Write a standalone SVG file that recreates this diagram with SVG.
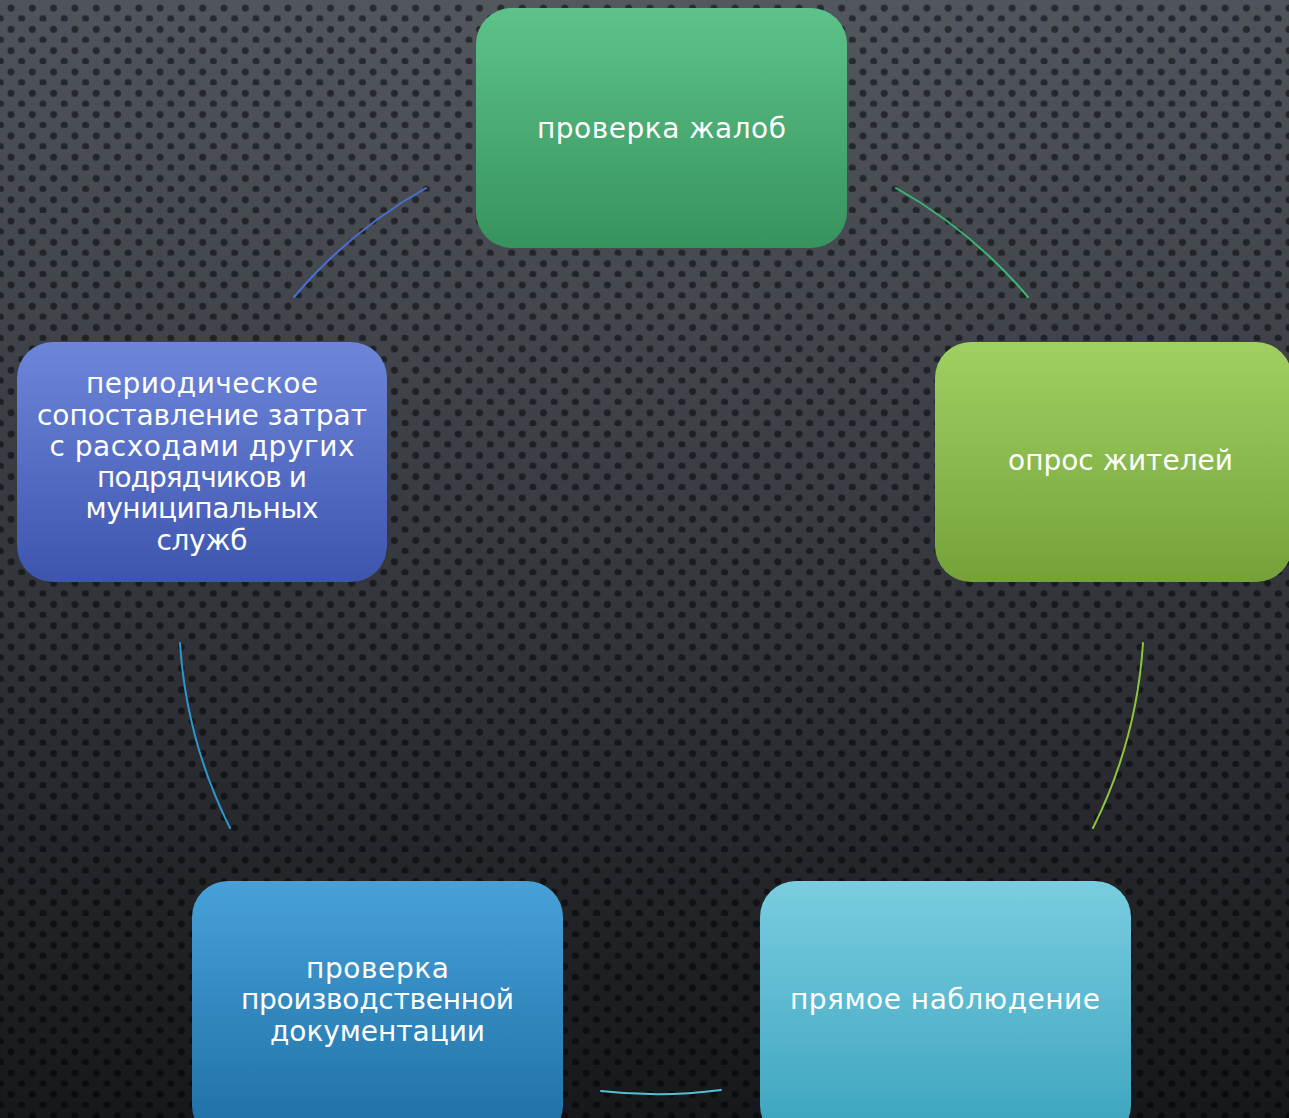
<svg xmlns="http://www.w3.org/2000/svg" width="1289" height="1118" viewBox="0 0 1289 1118">
<defs>
<linearGradient id="bg" x1="0" y1="0" x2="0" y2="1">
<stop offset="0" stop-color="#4b4f57"/>
<stop offset="0.45" stop-color="#34373d"/>
<stop offset="1" stop-color="#17181b"/>
</linearGradient>
<radialGradient id="glow" cx="0.5" cy="0" r="0.9">
<stop offset="0" stop-color="#ffffff" stop-opacity="0.05"/>
<stop offset="1" stop-color="#ffffff" stop-opacity="0"/>
</radialGradient>
<pattern id="dots" x="0" y="0" width="21.3" height="21.3" patternUnits="userSpaceOnUse">
<circle cx="11" cy="8" r="3.5" fill="#000" fill-opacity="0.5"/>
<circle cx="0.35" cy="18.65" r="3.5" fill="#000" fill-opacity="0.5"/>
<circle cx="21.65" cy="18.65" r="3.5" fill="#000" fill-opacity="0.5"/>
</pattern>
<linearGradient id="gGreen" x1="0" y1="0" x2="0" y2="1">
<stop offset="0" stop-color="#5dc38a"/>
<stop offset="1" stop-color="#37935d"/>
</linearGradient>
<linearGradient id="gLime" x1="0" y1="0" x2="0" y2="1">
<stop offset="0" stop-color="#a0d062"/>
<stop offset="1" stop-color="#74a239"/>
</linearGradient>
<linearGradient id="gCyan" x1="0" y1="0" x2="0" y2="1">
<stop offset="0" stop-color="#79cde0"/>
<stop offset="1" stop-color="#3aa3bd"/>
</linearGradient>
<linearGradient id="gBlue" x1="0" y1="0" x2="0" y2="1">
<stop offset="0" stop-color="#47a1d7"/>
<stop offset="1" stop-color="#1d6fa5"/>
</linearGradient>
<linearGradient id="gIndigo" x1="0" y1="0" x2="0" y2="1">
<stop offset="0" stop-color="#6d86da"/>
<stop offset="1" stop-color="#3e55ae"/>
</linearGradient>
</defs>
<style>
.lbl{font-family:"DejaVu Sans","Liberation Sans",sans-serif;font-size:28px;fill:#ffffff;text-anchor:middle}
.arc{fill:none;stroke-width:2;stroke-linecap:round}
</style>
<rect width="1289" height="1118" fill="url(#bg)"/>
<rect width="1289" height="1118" fill="url(#glow)"/>
<rect width="1289" height="1118" fill="url(#dots)"/>

<g id="connectors">
<path class="arc" stroke="#38b874" d="M 896 188 A 483 483 0 0 1 1028 297"/>
<path class="arc" stroke="#8cc63f" d="M 1143 643 A 483 483 0 0 1 1093 828"/>
<path class="arc" stroke="#55bfd5" d="M 721 1090 A 483 483 0 0 1 601 1091"/>
<path class="arc" stroke="#2a98cf" d="M 230 828 A 483 483 0 0 1 180 643"/>
<path class="arc" stroke="#4a6fd6" d="M 294 297 A 483 483 0 0 1 426 188"/>
</g>

<g id="node-complaints">
<rect x="476" y="8" width="371" height="240" rx="36" fill="url(#gGreen)"/>
<text class="lbl" x="661.5" y="138" textLength="249">проверка жалоб</text>
</g>

<g id="node-survey">
<rect x="935" y="342" width="357" height="240" rx="36" fill="url(#gLime)"/>
<text class="lbl" x="1120.5" y="470" textLength="225">опрос жителей</text>
</g>

<g id="node-observation">
<rect x="760" y="881" width="371" height="260" rx="36" fill="url(#gCyan)"/>
<text class="lbl" x="945" y="1009" textLength="310">прямое наблюдение</text>
</g>

<g id="node-documentation">
<rect x="192" y="881" width="371" height="260" rx="36" fill="url(#gBlue)"/>
<text class="lbl" x="377.5" y="978" textLength="143">проверка</text>
<text class="lbl" x="377.5" y="1009" textLength="273">производственной</text>
<text class="lbl" x="377.5" y="1041" textLength="215">документации</text>
</g>

<g id="node-comparison">
<rect x="17" y="342" width="370" height="240" rx="36" fill="url(#gIndigo)"/>
<text class="lbl" x="202" y="393" textLength="232">периодическое</text>
<text class="lbl" x="202" y="425" textLength="330">сопоставление затрат</text>
<text class="lbl" x="202" y="456" textLength="305">с расходами других</text>
<text class="lbl" x="202" y="487" textLength="210">подрядчиков и</text>
<text class="lbl" x="202" y="518" textLength="233">муниципальных</text>
<text class="lbl" x="202" y="550" textLength="91">служб</text>
</g>
</svg>
